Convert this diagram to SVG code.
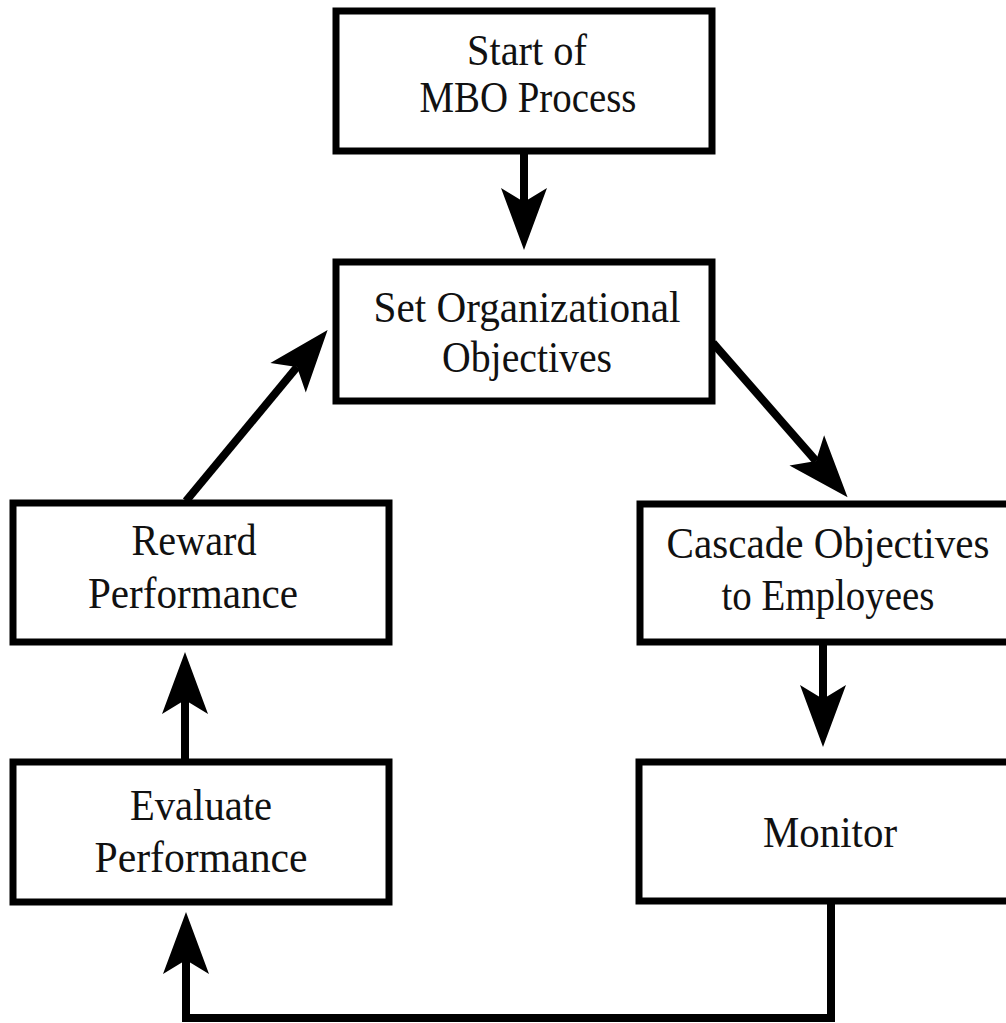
<svg xmlns="http://www.w3.org/2000/svg" width="1006" height="1023" viewBox="0 0 1006 1023">
<style>
.box{fill:#fff;stroke:#000;stroke-width:7}
.lbl{font-family:"Liberation Serif","Times New Roman",serif;font-size:44px;fill:#111;text-anchor:middle}
.edge{fill:none;stroke:#000;stroke-width:8}
</style>
<defs>
<marker id="ah" markerUnits="userSpaceOnUse" viewBox="-64 -25 66 50" refX="-48" refY="0" markerWidth="66" markerHeight="50" orient="auto">
<path d="M0,0 L-62,-23 L-48,0 L-62,23 Z" fill="#000"/>
</marker>
</defs>
<rect width="1006" height="1023" fill="#fff"/>
<g id="connectors">
<line class="edge" x1="524" y1="151" x2="524" y2="202" marker-end="url(#ah)"/>
<line class="edge" x1="186" y1="501" x2="297" y2="367" marker-end="url(#ah)"/>
<line class="edge" x1="713" y1="343" x2="816" y2="461" marker-end="url(#ah)"/>
<line class="edge" x1="823" y1="645" x2="823" y2="699" marker-end="url(#ah)"/>
<line class="edge" x1="185" y1="759" x2="185" y2="700" marker-end="url(#ah)"/>
<polyline class="edge" points="831,904 831,1018 186,1018 186,960" stroke-linejoin="miter" marker-end="url(#ah)"/>
</g>
<g id="start">
<rect class="box" x="336" y="11" width="376" height="140"/>
<text class="lbl" x="527" y="65" textLength="120" lengthAdjust="spacingAndGlyphs">Start of</text>
<text class="lbl" x="528" y="112" textLength="217" lengthAdjust="spacingAndGlyphs">MBO Process</text>
</g>
<g id="set">
<rect class="box" x="336" y="262" width="376" height="139"/>
<text class="lbl" x="527" y="322" textLength="307" lengthAdjust="spacingAndGlyphs">Set Organizational</text>
<text class="lbl" x="527" y="372" textLength="170" lengthAdjust="spacingAndGlyphs">Objectives</text>
</g>
<g id="reward">
<rect class="box" x="13" y="503" width="376" height="139"/>
<text class="lbl" x="194" y="555" textLength="125" lengthAdjust="spacingAndGlyphs">Reward</text>
<text class="lbl" x="193" y="608" textLength="210" lengthAdjust="spacingAndGlyphs">Performance</text>
</g>
<g id="cascade">
<rect class="box" x="640" y="504" width="376" height="138"/>
<text class="lbl" x="828" y="558" textLength="323" lengthAdjust="spacingAndGlyphs">Cascade Objectives</text>
<text class="lbl" x="828" y="610" textLength="213" lengthAdjust="spacingAndGlyphs">to Employees</text>
</g>
<g id="evaluate">
<rect class="box" x="13" y="762" width="376" height="140"/>
<text class="lbl" x="201" y="820" textLength="142" lengthAdjust="spacingAndGlyphs">Evaluate</text>
<text class="lbl" x="201" y="872" textLength="213" lengthAdjust="spacingAndGlyphs">Performance</text>
</g>
<g id="monitor">
<rect class="box" x="639" y="762" width="376" height="139"/>
<text class="lbl" x="830" y="847" textLength="134" lengthAdjust="spacingAndGlyphs">Monitor</text>
</g>
</svg>
